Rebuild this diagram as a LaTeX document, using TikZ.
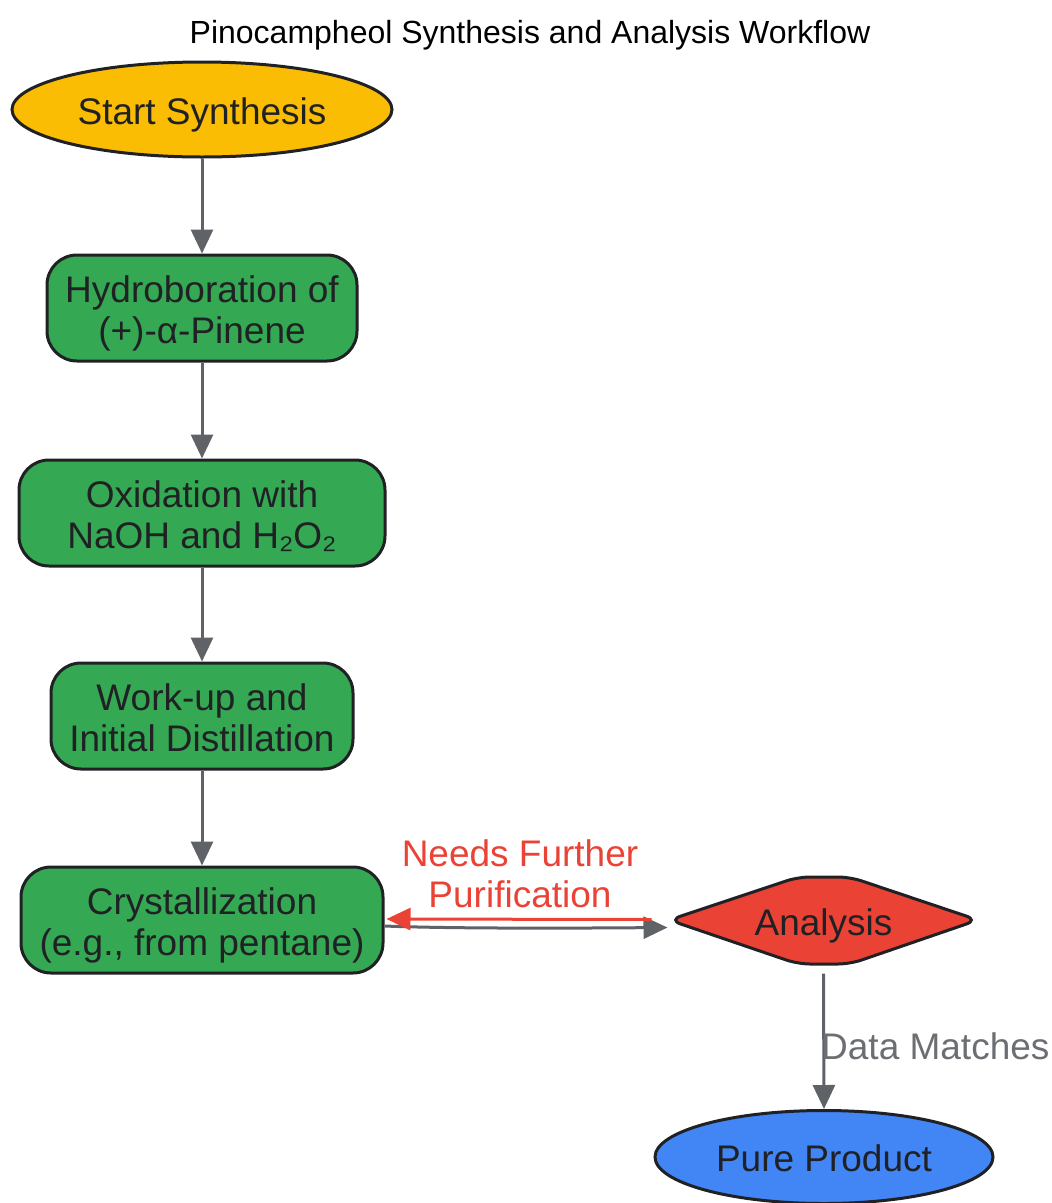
\documentclass[tikz,border=0pt]{standalone}
\usepackage{fontspec}
\setmainfont{Liberation Sans}
\usetikzlibrary{arrows.meta,shapes.geometric}
\definecolor{cyellow}{HTML}{FBBC04}
\definecolor{cgreen}{HTML}{34A853}
\definecolor{cred}{HTML}{EA4335}
\definecolor{cblue}{HTML}{4285F4}
\definecolor{cdark}{HTML}{202124}
\definecolor{cgray}{HTML}{5F6368}
\definecolor{clabel}{HTML}{6B6E73}
\begin{document}
\begin{tikzpicture}[x=1pt,y=-1pt,
  base/.style={draw=cdark,line width=3pt,text=cdark,inner sep=0pt,align=center,
    text height=29.5pt,text depth=0pt,font=\fontsize{37}{41}\selectfont},
  twoline/.style={text height=70.5pt,text depth=0pt},
  oval/.style={base,ellipse},
  stepbox/.style={base,twoline,rectangle,rounded corners=30pt,minimum height=106pt},
  conn/.style={draw=cgray,line width=3pt,-{Triangle[length=24pt,width=22pt]}},
  redconn/.style={draw=cred,line width=3pt,-{Triangle[length=24pt,width=22pt]}},
]
\useasboundingbox (0,0) rectangle (1052,1203);
\node[font=\fontsize{32}{36}\selectfont,text=black] (title) at (530,35) {Pinocampheol Synthesis and Analysis Workflow};

\node[oval,fill=cyellow,minimum width=380pt,minimum height=95pt] (start) at (202,109.5) {Start Synthesis};
\node[stepbox,fill=cgreen,minimum width=310pt] (hyd) at (202,308) {Hydroboration of\\(+)-α-Pinene};
\node[stepbox,fill=cgreen,minimum width=366pt] (oxi) at (202,513) {Oxidation with\\NaOH and H₂O₂};
\node[stepbox,fill=cgreen,minimum width=302pt] (work) at (202,716) {Work-up and\\Initial Distillation};
\node[stepbox,fill=cgreen,minimum width=362pt] (crys) at (202,920) {Crystallization\\(e.g., from pentane)};

% Analysis decision shape
\fill[cred,draw=cdark,line width=3pt,rounded corners=12pt]
  (669,920) -- (798,877) -- (850,877) -- (978,920) -- (850,964) -- (798,964) -- cycle;
\node[base,draw=none,minimum width=297pt,minimum height=87pt] (ana) at (823.5,920.5) {Analysis};

\node[oval,fill=cblue,minimum width=338pt,minimum height=93pt] (pure) at (824,1157) {Pure Product};

\draw[conn] (start) -- (hyd);
\draw[conn] (hyd) -- (oxi);
\draw[conn] (oxi) -- (work);
\draw[conn] (work) -- (crys);

\coordinate (g1) at ([yshift=-6pt]crys.east);
\coordinate (g2) at ([xshift=-6pt,yshift=-7pt]ana.west);
\draw[conn] (g1) .. controls (460,929) and (600,928) .. (g2);
\coordinate (r1) at ([xshift=-22pt,yshift=1pt]ana.west);
\coordinate (r2) at ([xshift=2pt,yshift=1pt]crys.east);
\draw[redconn] (r1) -- (r2);
\node[text=cred,font=\fontsize{37}{41}\selectfont,align=center] (lbl1) at (520,874) {Needs Further\\Purification};

\coordinate (a1) at ([yshift=-8pt]ana.south);
\draw[conn] (a1) -- (pure.north);
\node[text=clabel,font=\fontsize{37}{41}\selectfont,anchor=west,inner sep=0pt] (lbl2) at (821,1046) {Data Matches};
\end{tikzpicture}
\end{document}
